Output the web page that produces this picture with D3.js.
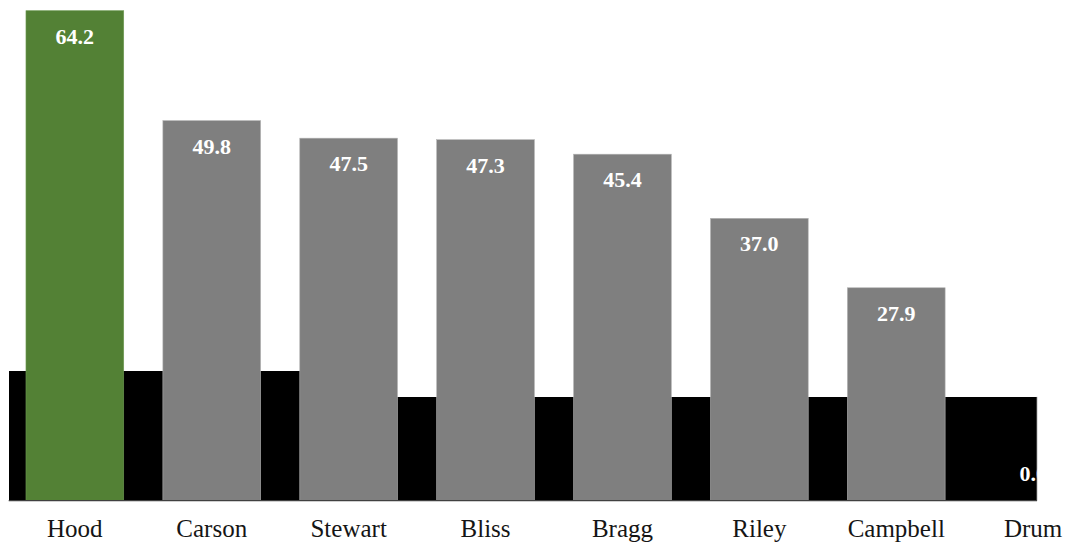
<!DOCTYPE html>
<html>
<head>
<meta charset="utf-8">
<script src="https://cdn.jsdelivr.net/npm/d3@7"></script>
<style>
  html, body { margin: 0; padding: 0; background: #ffffff; }
  svg { display: block; }
  svg text.serif { font-family: "Liberation Serif", serif; }
</style>
</head>
<body>
<svg id="chart" width="1070" height="544"></svg>
<script>
// Categories and values
const categories = ["Hood", "Carson", "Stewart", "Bliss", "Bragg", "Riley", "Campbell", "Drum"];
const scores     = [64.2, 49.8, 47.5, 47.3, 45.4, 37.0, 27.9, 0.0];
const baseValues = [17.0, 17.0, 17.0, 13.6, 13.6, 13.6, 13.6, 13.6];
const highlight  = "Hood";

const W = 1070, H = 544;
const svg = d3.select("#chart");

// Layout
const plotLeft = 8.7, plotRight = 1037;
const baseY = 500.7, topY = 10.7;

// Value scale
const y = d3.scaleLinear().domain([0, 64.2]).range([baseY, topY]);

// Main bars: banded, extends past the visible plot on the right
const x = d3.scaleBand()
  .domain(categories)
  .range([6.4, 1101.6])
  .paddingInner(0.286)
  .paddingOuter(0.143);

// Background bars: touching bands across the visible plot
const xb = d3.scaleBand()
  .domain(categories)
  .range([plotLeft, plotRight])
  .padding(0);

const defs = svg.append("defs");
defs.append("clipPath").attr("id", "plotClip")
  .append("rect")
  .attr("x", plotLeft - 1).attr("y", 0)
  .attr("width", plotRight - plotLeft + 1.5).attr("height", H);

const plot = svg.append("g").attr("clip-path", "url(#plotClip)");

// Background black bars
plot.append("g")
  .attr("shape-rendering", "crispEdges")
  .selectAll("rect")
  .data(categories)
  .join("rect")
  .attr("x", d => xb(d))
  .attr("width", (d, i) => i < categories.length - 1 ? xb.bandwidth() + 1 : xb.bandwidth())
  .attr("y", (d, i) => y(baseValues[i]))
  .attr("height", (d, i) => baseY - y(baseValues[i]))
  .attr("fill", "#000000");

// Right edge of the black background
plot.append("line")
  .attr("x1", plotRight).attr("x2", plotRight)
  .attr("y1", y(baseValues[baseValues.length - 1])).attr("y2", baseY)
  .attr("stroke", "#7a7a7a").attr("stroke-width", 1);

// Main bars
plot.append("g")
  .selectAll("rect")
  .data(categories)
  .join("rect")
  .attr("x", d => x(d))
  .attr("width", x.bandwidth())
  .attr("y", (d, i) => y(scores[i]))
  .attr("height", (d, i) => baseY - y(scores[i]))
  .attr("fill", d => d === highlight ? "#538135" : "#7f7f7f")
  .attr("stroke", d => d === highlight ? "#6f9a55" : "#b4b4b4")
  .attr("stroke-width", 0.6);

// Value labels inside the bar tops
const fmt = d3.format(".1f");
plot.append("g")
  .selectAll("text")
  .data(categories)
  .join("text")
  .attr("class", "serif")
  .attr("x", d => x(d) + x.bandwidth() / 2)
  .attr("y", (d, i) => Math.min(y(scores[i]) + 33, baseY - 20))
  .attr("text-anchor", "middle")
  .style("fill", "#ffffff")
  .style("font-weight", "bold")
  .style("font-size", "22px")
  .text((d, i) => fmt(scores[i]));

// Baseline
svg.append("line")
  .attr("x1", plotLeft).attr("x2", plotRight)
  .attr("y1", baseY).attr("y2", baseY)
  .attr("stroke", "#404040").attr("stroke-width", 1.2);

// Category axis labels
const axis = d3.axisBottom(x).tickSize(0).tickPadding(0);
const ax = svg.append("g")
  .attr("transform", `translate(0, ${baseY})`)
  .call(axis);
ax.attr("font-family", null).attr("font-size", null);
ax.select(".domain").remove();
ax.selectAll("text")
  .attr("class", "serif")
  .attr("dy", null)
  .attr("y", 36.5)
  .style("fill", "#151515")
  .style("font-size", "25px");
</script>
</body>
</html>
